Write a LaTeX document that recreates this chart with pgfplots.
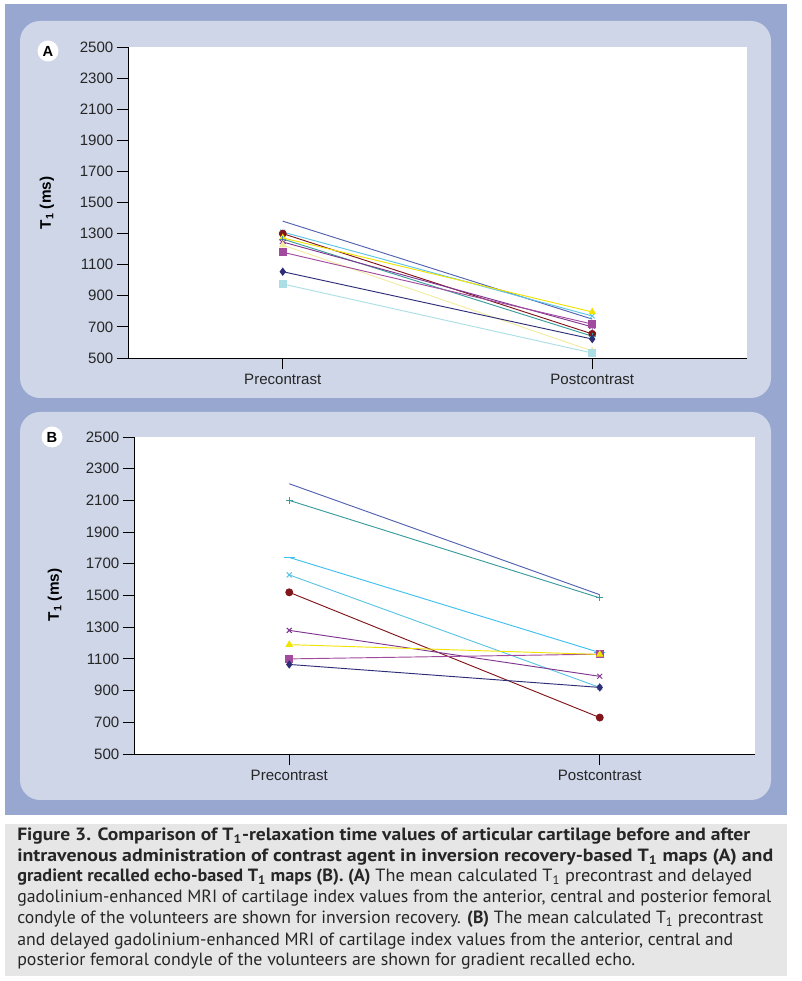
\documentclass[border=0pt]{standalone}
\usepackage{fontspec}
\setmainfont{Liberation Sans}
\newfontfamily\capfont{PT Sans}
\usepackage{graphicx}
\usepackage{pgfplots}
\pgfplotsset{compat=1.18}

\definecolor{bgblue}{HTML}{97A7CF}
\definecolor{panel}{HTML}{CED6E8}
\definecolor{capbg}{HTML}{E6E6E6}
\definecolor{navy}{HTML}{2E2E78}
\definecolor{magen}{HTML}{A24A9E}
\definecolor{yell}{HTML}{F0E400}
\definecolor{skyx}{HTML}{5CC4E4}
\definecolor{purp}{HTML}{803590}
\definecolor{dred}{HTML}{80151A}
\definecolor{teal2}{HTML}{3A9C9C}
\definecolor{dblue}{HTML}{5262B0}
\definecolor{skyd}{HTML}{40C0F0}
\definecolor{pyell}{HTML}{F3ECA0}
\definecolor{pcyan}{HTML}{ACDFE5}

\pgfplotsset{
  panelaxis/.style={
    scale only axis,
    xmin=0.5, xmax=2.5, ymin=500, ymax=2500,
    xtick={1,2}, xticklabels={Precontrast,Postcontrast},
    ytick={500,700,...,2500},
    axis x line*=bottom, axis y line*=left,
    axis line style={black, line width=0.7pt, -},
    tick align=outside, major tick length=8.5pt,
    tick style={black, line width=0.7pt},
    axis background/.style={fill=white},
    tick label style={font=\fontsize{11.3}{13}\selectfont, text=black!85},
    yticklabel style={xshift=1pt},
    /pgf/number format/assume math mode=true,
    /pgf/number format/1000 sep={},
    every axis plot/.append style={line width=0.7pt, mark size=2.6pt},
  },
}

% caption line stretched to end at a given x (pixels)
\newsavebox\capbox
\newcommand\capline[3]{%
  \node[anchor=base west, inner sep=0pt] at (17,#1) {%
    \sbox\capbox{\capfont\fontsize{13.3}{15}\selectfont\color{black!85}#3}%
    \pgfmathsetmacro\capr{((#2)-17)*0.75/\the\wd\capbox}%
    \scalebox{\capr}[1]{\usebox\capbox}};%
}

\begin{document}
\begin{tikzpicture}[x=0.75pt, y=0.75pt]
\path[use as bounding box, fill=white] (0,0) rectangle (802,981);
\fill[bgblue] (5,166) rectangle (787,977);
\fill[panel, rounded corners=15pt] (20,583) rectangle (771,960);
\fill[panel, rounded corners=15pt] (20,181) rectangle (771,569);
\fill[capbg] (5,5) rectangle (787,157);

% Panel A
\begin{axis}[panelaxis, at={(96pt,467.25pt)}, anchor=south west,
  width=464.25pt, height=233.25pt]
\addplot[dblue] coordinates {(1,1380) (2,750)};
\addplot[skyx, mark=x] coordinates {(1,1310) (2,770)};
\addplot[dred, mark=*] coordinates {(1,1300) (2,655)};
\addplot[yell, mark=triangle*] coordinates {(1,1272) (2,796)};
\addplot[teal2, mark=+] coordinates {(1,1265) (2,640)};
\addplot[purp, mark=asterisk] coordinates {(1,1246) (2,700)};
\addplot[pyell, mark=triangle*] coordinates {(1,1226) (2,545)};
\addplot[magen, mark=square*] coordinates {(1,1180) (2,718)};
\addplot[navy, mark=diamond*] coordinates {(1,1055) (2,622)};
\addplot[pcyan, mark=square*] coordinates {(1,976) (2,532)};
\end{axis}

% Panel B
\begin{axis}[panelaxis, at={(100.5pt,170.25pt)}, anchor=south west,
  width=465.75pt, height=237.75pt]
\addplot[dblue] coordinates {(1,2205) (2,1505)};
\addplot[teal2, mark=+] coordinates {(1,2100) (2,1485)};
\addplot[skyd, mark=-, mark size=4pt] coordinates {(1,1740) (2,1140)};
\addplot[skyx, mark=x] coordinates {(1,1630) (2,920)};
\addplot[dred, mark=*] coordinates {(1,1520) (2,730)};
\addplot[purp, mark=x] coordinates {(1,1280) (2,990)};
\addplot[magen, mark=square*] coordinates {(1,1100) (2,1130)};
\addplot[yell, mark=triangle*] coordinates {(1,1190) (2,1128)};
\addplot[navy, mark=diamond*] coordinates {(1,1065) (2,920)};
\end{axis}

% y labels and panel letters
\node[rotate=90, font=\bfseries\fontsize{11.5}{13}\selectfont] at (47,778) {T\textsubscript{1} (ms)};
\node[rotate=90, font=\bfseries\fontsize{11.5}{13}\selectfont] at (55,386) {T\textsubscript{1} (ms)};
\fill[white] (48,930) circle (10.5);
\node[font=\bfseries\fontsize{11}{12}\selectfont] at (48,930) {A};
\fill[white] (52,544) circle (10.5);
\node[font=\bfseries\fontsize{11}{12}\selectfont] at (52,544) {B};

% caption
\capline{140}{750}{\bfseries Figure 3. Comparison of T\textsubscript{1}-relaxation time values of articular cartilage before and after}
\capline{119}{773}{\bfseries intravenous administration of contrast agent in inversion recovery-based T\textsubscript{1} maps (A) and}
\capline{99}{752}{\textbf{gradient recalled echo-based T\textsubscript{1} maps (B). (A)} The mean calculated T\textsubscript{1} precontrast and delayed}
\capline{78}{771}{gadolinium-enhanced MRI of cartilage index values from the anterior, central and posterior femoral}
\capline{57}{763}{condyle of the volunteers are shown for inversion recovery. \textbf{(B)} The mean calculated T\textsubscript{1} precontrast}
\capline{36}{733}{and delayed gadolinium-enhanced MRI of cartilage index values from the anterior, central and}
\capline{16}{635}{posterior femoral condyle of the volunteers are shown for gradient recalled echo.}
\end{tikzpicture}
\end{document}
